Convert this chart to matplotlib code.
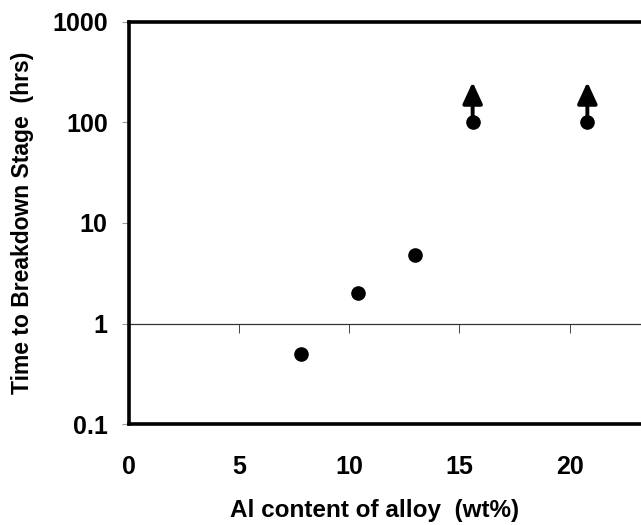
import matplotlib
matplotlib.use("Agg")
import matplotlib.pyplot as plt

# Data
al_content = [7.8, 10.4, 13.0]
time_hrs = [0.5, 2.0, 4.8]
al_lower_bound = [15.6, 20.8]
time_lower_bound = [100, 100]
arrow_factor = 2.5

x_ticks = [0, 5, 10, 15, 20]
y_ticks = [0.1, 1, 10, 100, 1000]
y_tick_labels = ["0.1", "1", "10", "100", "1000"]

plt.rcParams['font.family'] = ['Liberation Sans', 'DejaVu Sans']
plt.rcParams['font.weight'] = 'bold'

fig = plt.figure(figsize=(6.41, 5.25), dpi=100)
W, H = 641, 525
left_px, right_px, top_px, bot_px = 128.5, 680.0, 21.5, 424.3
ax = fig.add_axes([left_px / W, 1 - bot_px / H, (right_px - left_px) / W, (bot_px - top_px) / H])

ax.set_yscale('log')
ax.set_ylim(0.1, 1000)
ax.set_xlim(0, 25)

ax.plot(al_content, time_hrs, 'o', color='black', markersize=9.5, zorder=5)
ax.plot(al_lower_bound, time_lower_bound, 'o', color='black', markersize=9.5, zorder=5)
for x, y in zip(al_lower_bound, time_lower_bound):
    ax.annotate('', xy=(x, y * arrow_factor), xytext=(x, y),
                arrowprops=dict(arrowstyle='-|>,head_width=0.6,head_length=1.3',
                                color='black', lw=2.8, shrinkA=0, shrinkB=0),
                zorder=4)

for s in ax.spines.values():
    s.set_linewidth(2.6)
    s.set_color('black')

ax.set_yticks(y_ticks)
ax.set_yticklabels(y_tick_labels)
ax.yaxis.set_minor_locator(matplotlib.ticker.NullLocator())
ax.tick_params(axis='y', which='major', direction='out', length=5, width=0.8,
               color='#999999', pad=10, labelsize=18)
ax.tick_params(axis='y', which='minor', length=0)

ax.set_xticks(x_ticks)
ax.set_xticklabels([str(t) for t in x_ticks])
ax.tick_params(axis='x', which='major', length=0, pad=22, labelsize=18)

# axis crossing at y = 1 with tick marks
sec = ax.secondary_xaxis(0.25)
sec.set_xticks(x_ticks)
sec.set_xticklabels([])
sec.tick_params(axis='x', direction='out', length=6.5, width=0.7, color='#444444')
sec.spines['bottom'].set_linewidth(0.9)
sec.spines['bottom'].set_color('#333333')
for k in ('top', 'left', 'right'):
    if k in sec.spines:
        sec.spines[k].set_visible(False)

ax.set_xlabel('Al content of alloy  (wt%)', fontsize=17.5, fontweight='bold')
ax.set_ylabel('Time to Breakdown Stage  (hrs)', fontsize=16.5, fontweight='bold')
ax.xaxis.set_label_coords((375 - left_px) / (right_px - left_px), -0.185)
ax.yaxis.set_label_coords((34 - left_px) / (right_px - left_px), 0.5)

fig.savefig('out.png', dpi=100)
